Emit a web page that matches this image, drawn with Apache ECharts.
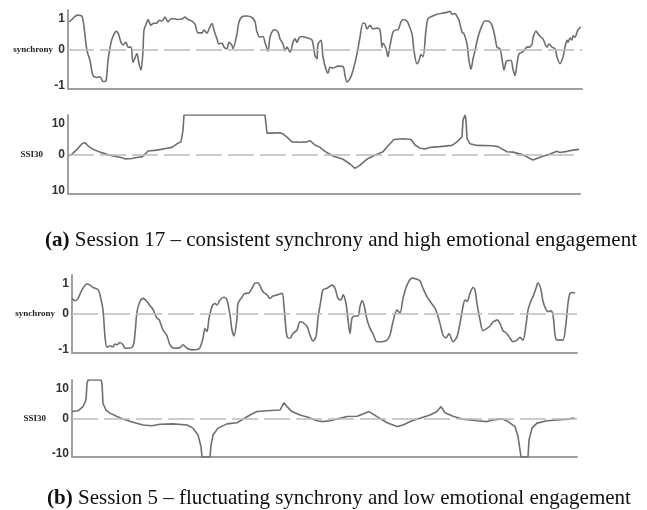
<!DOCTYPE html>
<html>
<head>
<meta charset="utf-8">
<script src="https://cdn.jsdelivr.net/npm/echarts@6/dist/echarts.min.js"></script>
<style>
  html, body { margin: 0; padding: 0; background: #fff; }
  #chart { width: 647px; height: 510px; }
</style>
</head>
<body>
<div id="chart"></div>
<script>
(function () {
  // (a) session 17 - synchrony, [time, value]
  const syncA = [
    [1, 0.70], [3, 0.74], [7, 0.84], [10, 0.87], [14, 0.84], [16, 0.57], [19, -0.03], [22, -0.28],
    [25, -0.66], [29, -0.71], [32, -0.69], [35, -0.81], [38, -0.79], [40, -0.28], [43, 0.18], [45, 0.33],
    [48, 0.46], [50, 0.42], [53, 0.18], [55, 0.12], [58, 0.18], [60, 0.06], [63, 0.06], [65, -0.32],
    [68, -0.15], [69, -0.11], [71, -0.36], [73, -0.52], [75, -0.03], [76, 0.49], [79, 0.70], [80, 0.76],
    [83, 0.61], [85, 0.66], [89, 0.67], [91, 0.74], [94, 0.72], [97, 0.82], [100, 0.70], [103, 0.78],
    [106, 0.78], [109, 0.76], [114, 0.77], [117, 0.82], [120, 0.76], [124, 0.72], [127, 0.64], [130, 0.42],
    [134, 0.42], [136, 0.49], [139, 0.41], [141, 0.52], [144, 0.66], [146, 0.49], [149, 0.27], [151, 0.14],
    [154, 0.16], [156, 0.06], [159, 0.02], [161, 0.18], [164, 0.10], [165, 0.02], [169, 0.40], [171, 0.70],
    [175, 0.84], [179, 0.85], [184, 0.81], [187, 0.70], [189, 0.44], [192, 0.31], [195, 0.33], [197, 0.18],
    [200, -0.04], [202, 0.31], [205, 0.49], [207, 0.50], [210, 0.44], [212, 0.27], [215, 0.14], [217, -0.03],
    [219, 0.06], [222, -0.07], [225, 0.18], [227, 0.27], [229, 0.18], [231, 0.29], [234, 0.33], [237, 0.31],
    [240, 0.29], [244, 0.24], [247, -0.15], [249, -0.24], [250, 0.14], [253, 0.23], [255, -0.19], [258, -0.50],
    [260, -0.60], [262, -0.45], [265, -0.47], [270, -0.42], [275, -0.43], [277, -0.66], [279, -0.82], [282, -0.74],
    [285, -0.53], [289, -0.11], [292, 0.31], [295, 0.67], [297, 0.66], [299, 0.52], [302, 0.61], [305, 0.52],
    [309, 0.54], [312, 0.49], [314, 0.06], [315, 0.16], [318, 0.02], [320, -0.18], [322, 0.10], [325, 0.44],
    [327, 0.49], [330, 0.50], [333, 0.70], [335, 0.76], [339, 0.72], [341, 0.61], [344, 0.40], [346, -0.03],
    [349, -0.36], [351, -0.28], [353, -0.13], [355, -0.18], [358, 0.49], [360, 0.78], [364, 0.84], [369, 0.89],
    [374, 0.92], [379, 0.94], [382, 0.97], [384, 0.89], [387, 0.91], [389, 0.84], [391, 0.74], [394, 0.44],
    [396, 0.40], [399, 0.14], [401, -0.28], [403, -0.50], [405, -0.24], [407, -0.03], [410, 0.31], [414, 0.61],
    [417, 0.72], [420, 0.72], [424, 0.61], [427, 0.31], [429, 0.06], [432, 0.02], [434, -0.24], [436, -0.52],
    [438, -0.32], [440, -0.28], [443, -0.28], [445, -0.50], [447, -0.66], [449, -0.36], [451, -0.11], [454, -0.07],
    [456, -0.03], [459, 0.06], [461, 0.06], [464, 0.14], [465, 0.29], [468, 0.47], [470, 0.40], [473, 0.31],
    [475, 0.27], [479, 0.06], [481, 0.14], [484, 0.06], [487, 0.02], [489, -0.19], [492, -0.36], [495, -0.19],
    [497, 0.06], [499, 0.23], [500, 0.18], [502, 0.29], [504, 0.24], [505, 0.35], [507, 0.31], [509, 0.44],
    [510, 0.50], [513, 0.57]
  ];

  // (a) session 17 - SSI30
  const ssiA = [
    [0, -0.4], [4, 0.1], [9, 1.3], [14, 2.7], [17, 3.0], [20, 2.2], [25, 1.3], [32, 0.6], [39, 0.05],
    [45, -0.4], [52, -0.7], [57, -1.1], [64, -1.0], [70, -0.7], [74, -0.6], [77, 0.1], [80, 0.9], [89, 1.1],
    [99, 1.6], [104, 1.8], [109, 2.7], [113, 3.2], [115, 6.2], [116, 10], [197, 10], [199, 5.4], [204, 5.4],
    [212, 5.5], [215, 5.2], [219, 4.4], [224, 3.2], [232, 3.1], [239, 3.2], [242, 3.5], [247, 2.4], [252, 1.8],
    [257, 0.8], [261, 0.2], [265, -0.4], [275, -1.2], [282, -2.4], [287, -3.5], [292, -2.7], [300, -1.0],
    [309, 0.05], [315, 0.7], [320, 2.2], [326, 3.8], [335, 4.0], [343, 3.8], [347, 2.4], [352, 1.6], [357, 1.4],
    [362, 1.8], [372, 2.0], [384, 2.3], [389, 3.2], [394, 4.5], [395, 8.7], [397, 10], [398, 8.7], [399, 4.1],
    [402, 2.7], [409, 2.3], [424, 2.2], [430, 2.0], [439, 0.7], [445, 0.6], [455, -0.1], [465, -1.4],
    [472, -0.7], [482, 0.1], [489, 0.8], [492, 0.5], [499, 0.8], [505, 1.1], [511, 1.3]
  ];

  // (b) session 5 - synchrony
  const syncB = [
    [0, 0.40], [3, 0.34], [6, 0.40], [10, 0.62], [15, 0.77], [18, 0.74], [21, 0.68], [26, 0.63], [28, 0.49],
    [31, 0.10], [33, -0.58], [35, -0.85], [38, -0.82], [41, -0.84], [43, -0.77], [45, -0.79], [48, -0.73],
    [51, -0.79], [53, -0.88], [56, -0.88], [61, -0.82], [63, -0.50], [65, 0.06], [68, 0.32], [71, 0.40],
    [75, 0.32], [78, 0.21], [81, 0.12], [85, -0.11], [87, -0.14], [91, -0.41], [95, -0.56], [98, -0.79],
    [103, -0.88], [108, -0.86], [111, -0.79], [115, -0.88], [120, -0.92], [125, -0.91], [128, -0.86],
    [131, -0.62], [133, -0.37], [135, -0.45], [137, -0.11], [140, 0.19], [143, 0.27], [145, 0.23], [148, 0.36],
    [152, 0.43], [155, 0.36], [158, -0.03], [160, -0.41], [162, -0.56], [165, -0.11], [166, 0.27], [170, 0.43],
    [173, 0.53], [176, 0.53], [180, 0.66], [183, 0.79], [186, 0.80], [188, 0.72], [191, 0.57], [195, 0.49],
    [198, 0.40], [201, 0.46], [205, 0.49], [210, 0.53], [212, 0.19], [215, -0.58], [218, -0.62], [221, -0.50],
    [225, -0.41], [228, -0.20], [231, -0.22], [235, -0.32], [238, -0.54], [241, -0.69], [244, -0.58],
    [246, -0.11], [249, 0.36], [251, 0.62], [255, 0.66], [260, 0.74], [263, 0.66], [266, 0.40], [269, 0.36],
    [271, 0.49], [274, 0.27], [276, -0.15], [278, -0.50], [280, -0.11], [283, -0.05], [286, -0.05], [288, 0.19],
    [290, 0.34], [292, 0.23], [295, -0.14], [298, -0.37], [301, -0.51], [305, -0.71], [310, -0.71], [315, -0.67],
    [318, -0.54], [321, -0.20], [325, 0.10], [328, 0.03], [331, 0.40], [335, 0.74], [340, 0.92], [345, 0.89],
    [348, 0.85], [351, 0.66], [355, 0.44], [359, 0.29], [363, 0.15], [365, 0.02], [368, -0.24], [371, -0.54],
    [374, -0.61], [377, -0.51], [381, -0.71], [385, -0.58], [388, -0.24], [391, 0.19], [393, 0.36], [395, 0.32],
    [398, 0.53], [401, 0.68], [403, 0.62], [405, 0.27], [408, -0.15], [411, -0.43], [415, -0.37], [419, -0.28],
    [421, -0.20], [423, -0.18], [425, -0.15], [428, -0.24], [431, -0.43], [434, -0.48], [437, -0.58],
    [441, -0.71], [445, -0.67], [448, -0.60], [451, -0.67], [454, -0.28], [456, 0.10], [459, 0.34], [461, 0.44],
    [464, 0.66], [466, 0.80], [469, 0.62], [471, 0.32], [474, 0.12], [476, 0.06], [479, 0.08], [481, -0.03],
    [484, -0.65], [488, -0.67], [491, -0.67], [494, -0.24], [496, 0.27], [498, 0.53], [501, 0.55], [503, 0.53]
  ];

  // (b) session 5 - SSI30
  const ssiB = [
    [0, 1.8], [6, 2.0], [11, 3.1], [14, 4.8], [15, 9.1], [16, 10], [29, 10], [30, 9.1], [31, 3.9], [34, 2.2],
    [38, 1.4], [45, 0.5], [51, -0.1], [61, -1.0], [71, -1.7], [80, -1.9], [88, -1.5], [101, -1.4], [115, -1.7],
    [121, -2.5], [126, -4.3], [129, -7.3], [130, -10], [138, -10], [139, -6.9], [141, -4.3], [146, -2.5],
    [155, -1.4], [165, -1.1], [171, -0.2], [178, 0.9], [185, 1.8], [195, 2.0], [208, 2.2], [212, 4.1],
    [215, 3.1], [220, 1.8], [228, 0.9], [236, 0.3], [245, -0.6], [250, -0.8], [258, -0.6], [268, 0.05],
    [275, 0.5], [285, 0.6], [291, 1.2], [297, 1.8], [305, 0.5], [315, -1.1], [325, -2.1], [331, -1.7],
    [340, -0.6], [348, 0.05], [358, 0.9], [365, 1.8], [369, 3.1], [373, 1.5], [381, 0.6], [391, -0.2],
    [405, -0.6], [415, -0.8], [421, -0.4], [430, -0.1], [436, -0.8], [443, -2.1], [446, -4.7], [448, -8.2],
    [449, -10], [456, -10], [457, -5.6], [460, -2.5], [465, -1.2], [475, -0.6], [485, -0.4], [495, -0.2],
    [500, 0.05], [503, 0.05]
  ];

  const syncTicks = [-1, 0, 1];
  const ssiTicks = [-10, 0, 10];
  const captionA = "Session 17 \u2013 consistent synchrony and high emotional engagement";
  const captionB = "Session 5 \u2013 fluctuating synchrony and low emotional engagement";

  const chart = echarts.init(document.getElementById("chart"));

  const lineColor = "#6f6f6f";
  const axisColor = "#a0a0a0";

  const grids = [
    { left: 68, top: 10, width: 514, height: 79 },
    { left: 68, top: 115, width: 512, height: 79 },
    { left: 72, top: 275, width: 505, height: 78 },
    { left: 72, top: 380, width: 505, height: 77 },
  ];

  const labelFont = {
    fontFamily: "Liberation Sans",
    fontWeight: "bold",
    fontSize: 12,
    color: "#333",
  };

  function xAxisFor(i, max) {
    return {
      gridIndex: i,
      type: "value",
      min: 0,
      max: max,
      axisLine: { onZero: false, lineStyle: { color: axisColor, width: 2 } },
      axisTick: { show: false },
      axisLabel: { show: false },
      splitLine: { show: false },
    };
  }

  function yAxisFor(i, name, ticks, gap, unsigned) {
    return {
      gridIndex: i,
      type: "value",
      min: ticks[0],
      max: ticks[2],
      interval: ticks[2],
      name: name,
      nameLocation: "middle",
      nameRotate: 0,
      nameGap: gap,
      nameMoveOverlap: false,
      nameTextStyle: {
        fontFamily: "Liberation Serif",
        fontWeight: "bold",
        fontSize: 9,
        color: "#222",
      },
      axisLine: { show: true, lineStyle: { color: axisColor, width: 2 } },
      axisTick: { show: false },
      splitLine: { show: false },
      axisLabel: {
        margin: 3,
        verticalAlignMaxLabel: "top",
        verticalAlignMinLabel: "bottom",
        formatter: (v) => {
          // the reference prints the lower SSI label of panel (a) without a sign
          const s = String(unsigned ? Math.abs(v) : v);
          if (v === ticks[2]) return "{mx|" + s + "}";
          if (v === ticks[0]) return "{mn|" + s + "}";
          return "{md|" + s + "}";
        },
        rich: {
          mx: Object.assign({ lineHeight: 18 }, labelFont),
          mn: Object.assign({ lineHeight: 7 }, labelFont),
          md: Object.assign({ lineHeight: 14 }, labelFont),
        },
      },
    };
  }

  function lineSeries(i, data, smooth) {
    return {
      type: "line",
      xAxisIndex: i,
      yAxisIndex: i,
      data: data,
      showSymbol: false,
      smooth: smooth,
      lineStyle: { color: lineColor, width: 1.6 },
      markLine: {
        silent: true,
        symbol: ["none", "none"],
        label: { show: false },
        lineStyle: { color: "#bcbcbc", width: 1.5, type: [26, 6] },
        data: [{ yAxis: 0 }],
      },
    };
  }

  function caption(tag, text, x, y) {
    return {
      text: "{b|" + tag + "} " + text,
      left: x,
      top: y,
      textAlign: "center",
      textStyle: {
        fontFamily: "Liberation Serif",
        fontWeight: "normal",
        fontSize: 21,
        color: "#111",
        rich: { b: { fontFamily: "Liberation Serif", fontWeight: "bold", fontSize: 21, color: "#111" } },
      },
    };
  }

  const option = {
    animation: false,
    grid: grids,
    xAxis: [xAxisFor(0, 514), xAxisFor(1, 512), xAxisFor(2, 505), xAxisFor(3, 505)],
    yAxis: [
      yAxisFor(0, "synchrony", syncTicks, 15),
      yAxisFor(1, "SSI30", ssiTicks, 25, true),
      yAxisFor(2, "synchrony", syncTicks, 17),
      yAxisFor(3, "SSI30", ssiTicks, 26),
    ],
    series: [
      lineSeries(0, syncA, 0.3),
      lineSeries(1, ssiA, false),
      lineSeries(2, syncB, 0.3),
      lineSeries(3, ssiB, false),
    ],
    title: [
      caption("(a)", captionA, 336, 225),
      caption("(b)", captionB, 334, 483),
    ],
  };

  chart.setOption(option);

  window.addEventListener("resize", () => {
    chart.resize();
  });
})();
</script>
</body>
</html>
